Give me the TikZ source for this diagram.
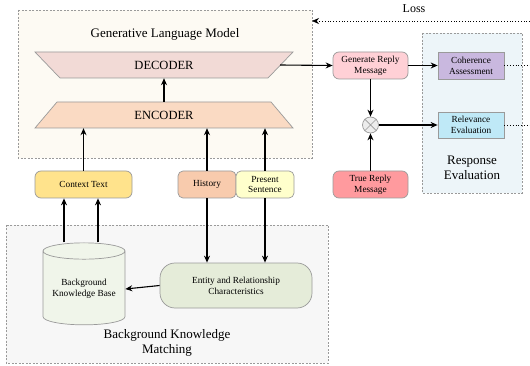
\documentclass[tikz,border=0pt]{standalone}
\usepackage{fontspec}
\setmainfont{Liberation Serif}
\usetikzlibrary{arrows.meta,shapes.geometric,shapes.misc}
\definecolor{glmfill}{HTML}{FDFAF3}
\definecolor{decfill}{HTML}{F2DAD6}
\definecolor{encfill}{HTML}{FADAC3}
\definecolor{ctxfill}{HTML}{FFE38C}
\definecolor{histfill}{HTML}{F8CBAD}
\definecolor{presfill}{HTML}{FFFFCC}
\definecolor{genfill}{HTML}{FFD0D6}
\definecolor{truefill}{HTML}{FF9A9E}
\definecolor{cohfill}{HTML}{C9B8DF}
\definecolor{relfill}{HTML}{BFE9F7}
\definecolor{revfill}{HTML}{EDF5F9}
\definecolor{bkmfill}{HTML}{F7F7F7}
\definecolor{cylfill}{HTML}{F0F5EA}
\definecolor{entfill}{HTML}{E5ECD9}
\definecolor{bordergray}{HTML}{9A9A9A}
\tikzset{
  frame/.style={draw=bordergray, dashed, line width=0.6pt, dash pattern=on 2pt off 1.5pt},
  boxr/.style={draw=bordergray, line width=0.7pt, rounded corners=6pt, align=center, font=\fontsize{9.3}{10.8}\selectfont, inner sep=1pt},
  sqbox/.style={draw=bordergray, line width=0.7pt, align=center, font=\fontsize{9.3}{10.8}\selectfont, inner sep=1pt},
  arr/.style={-{Stealth[length=7pt,width=6pt]}, line width=1.1pt, black},
  dotl/.style={dotted, line width=0.8pt, black},
  big/.style={font=\fontsize{13}{15.5}\selectfont, align=center}
}
\begin{document}
\begin{tikzpicture}[x=1pt,y=-1pt]
\useasboundingbox (0,0) rectangle (530,366);
% frames
\draw[frame, fill=glmfill] (18,10) rectangle (312,158);
\draw[frame, fill=revfill] (422,33) rectangle (522,193);
\draw[frame, fill=bkmfill] (6,225) rectangle (328,363);
\node[big] (glmt) at (165,34) {Generative Language Model};
\node[big] (revt) at (472,168) {Response\\Evaluation};
\node[big] (bkmt) at (167,343) {Background Knowledge\\Matching};
% decoder / encoder
\draw[draw=bordergray, line width=0.7pt, fill=decfill] (35,52) -- (293,52) -- (268,78) -- (60,78) -- cycle;
\draw[draw=bordergray, line width=0.7pt, fill=encfill] (57,102) -- (271,102) -- (293,128) -- (35,128) -- cycle;
\node[minimum width=222pt, minimum height=26pt, inner sep=0pt, font=\fontsize{12.5}{14}\selectfont] (dec) at (164,65) {DECODER};
\node[minimum width=258pt, minimum height=26pt, inner sep=0pt, font=\fontsize{12.5}{14}\selectfont] (enc) at (164,115) {ENCODER};
% boxes
\node[boxr, fill=ctxfill, minimum width=97pt, minimum height=27pt] (ctx) at (83.5,184.5) {Context Text};
\node[boxr, fill=histfill, minimum width=58pt, minimum height=27pt, rounded corners=5pt] (hist) at (207,184.5) {History};
\node[boxr, fill=presfill, minimum width=58pt, minimum height=27pt, rounded corners=5pt] (pres) at (265,184.5) {Present\\Sentence};
\node[boxr, fill=genfill, minimum width=75pt, minimum height=27pt] (gen) at (370.5,65.5) {Generate Reply\\Message};
\node[boxr, fill=truefill, minimum width=75pt, minimum height=27pt] (true) at (370.5,184.5) {True Reply\\Message};
\node[sqbox, fill=cohfill, minimum width=66pt, minimum height=27pt] (coh) at (471,65.5) {Coherence\\Assessment};
\node[sqbox, fill=relfill, minimum width=66pt, minimum height=26pt] (rel) at (471,125) {Relevance\\Evaluation};
\node[draw=bordergray, line width=0.7pt, fill=white!93!black, circle, minimum size=16pt, inner sep=0pt] (mul) at (370.5,125) {};
\draw[bordergray, line width=0.7pt] (mul.north west) -- (mul.south east) (mul.north east) -- (mul.south west);
\node[boxr, fill=entfill, minimum width=152pt, minimum height=45pt, rounded corners=15pt] (ent) at (236,285.5) {Entity and Relationship\\Characteristics};
\node[cylinder, shape border rotate=90, aspect=0.25, draw=bordergray, line width=0.7pt, fill=cylfill, minimum width=82pt, minimum height=82pt, align=center, font=\fontsize{9.3}{10.8}\selectfont, inner sep=1pt] (kb) at (84,289) {Background\\Knowledge Base};
% arrows
\draw[arr] (enc.north) -- (dec.south);
\draw[arr] (ctx.north) -- (ctx.north |- enc.south);
\draw[arr] (hist.north) -- (hist.north |- enc.south);
\draw[arr] (pres.north) -- (pres.north |- enc.south);
\draw[arr] (kb.top -| 64,0) -- (64,0 |- ctx.south);
\draw[arr] (kb.top -| 98,0) -- (98,0 |- ctx.south);
\draw[arr] (hist.south) -- (hist.south |- ent.north);
\draw[arr] (pres.south) -- (pres.south |- ent.north);
\draw[arr] (ent.west) -- (kb.east);
\draw[arr] (280,65) -- (gen.west);
\draw[arr] (gen.east) -- (coh.west);
\draw[arr] (gen.south) -- (mul.north);
\draw[arr] (true.north) -- (mul.south);
\draw[arr] (mul.east) -- (rel.west);
% loss
\coordinate (lossend) at (530,21);
\coordinate (cohend) at (530,65.5);
\coordinate (relend) at (530,125);
\draw[dotl] (coh.east) -- (cohend);
\draw[dotl] (rel.east) -- (relend);
\draw[dotl, -{Stealth[length=7pt,width=6pt]}] (lossend) -- (312,21);
\node[font=\fontsize{12}{14}\selectfont] (loss) at (414,9) {Loss};
\end{tikzpicture}
\end{document}
